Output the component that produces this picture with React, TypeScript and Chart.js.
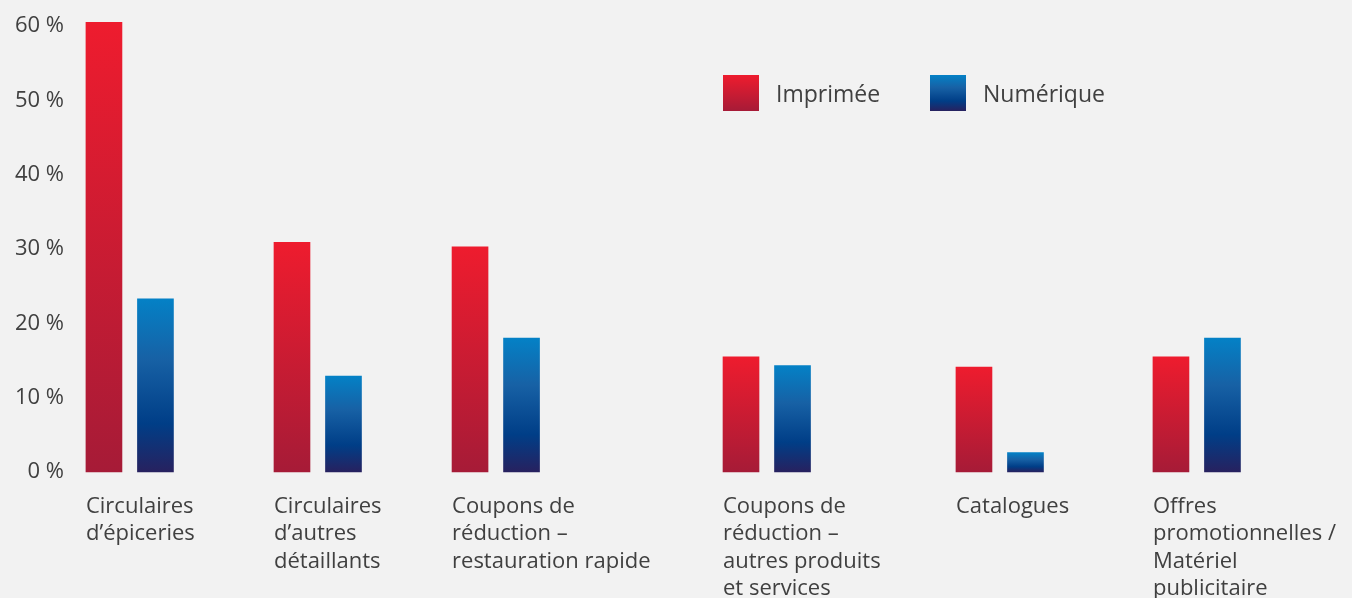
import { useEffect, useRef } from "react";
import { Chart, registerables } from "chart.js";

Chart.register(...registerables);

// ---- data ----
const categories: string[][] = [
  ["Circulaires", "d’épiceries"],
  ["Circulaires", "d’autres", "détaillants"],
  ["Coupons de", "réduction –", "restauration rapide"],
  ["Coupons de", "réduction –", "autres produits", "et services"],
  ["Catalogues"],
  ["Offres", "promotionnelles /", "Matériel", "publicitaire"],
];
const seriesNames = ["Imprimée", "Numérique"];
const printValues = [60.5, 30.9, 30.3, 15.5, 14.1, 15.5];
const digitalValues = [23.3, 12.9, 18.0, 14.3, 2.6, 18.0];
const yTickValues = [0, 10, 20, 30, 40, 50, 60];
// uneven category slots along the x axis (0–100 scale), as in the source layout
const categorySlots = [1.09, 15.78, 29.69, 50.86, 69.06, 84.45];

// ---- styling ----
const BG = "#f2f2f2";
const TEXT = "#404040";
const FONT = "'Open Sans', 'Noto Sans', sans-serif";
const redStops: [number, string][] = [
  [0, "#ee1c2e"],
  [1, "#a61b37"],
];
const blueStops: [number, string][] = [
  [0, "#0481c6"],
  [0.35, "#1761a5"],
  [0.72, "#003e87"],
  [1, "#27215f"],
];
const BAR_PX = 36;
const X_UNITS_PER_PX = 100 / 1280;
const redOffset = (BAR_PX / 2) * X_UNITS_PER_PX;
const blueOffset = redOffset + 51.5 * X_UNITS_PER_PX;

function grad(ctx: CanvasRenderingContext2D, top: number, bottom: number, stops: [number, string][]) {
  const g = ctx.createLinearGradient(0, top, 0, bottom);
  stops.forEach(([o, c]) => g.addColorStop(o, c));
  return g;
}

function barFill(stops: [number, string][]) {
  return (c: any) => {
    const chart = c.chart;
    const y = chart.scales?.y;
    if (!y || c.type !== "data" || !c.parsed) return stops[0][1];
    const top = y.getPixelForValue(c.parsed.y);
    const base = y.getPixelForValue(0);
    if (!Number.isFinite(top) || !Number.isFinite(base) || top === base) return stops[0][1];
    return grad(chart.ctx, top, base, stops);
  };
}

const legendPlugin = {
  id: "customLegend",
  afterDraw(chart: any) {
    const { ctx, chartArea } = chart;
    const items = [
      { name: seriesNames[0], stops: redStops, x: chartArea.left + 651 },
      { name: seriesNames[1], stops: blueStops, x: chartArea.left + 858 },
    ];
    const top = 75;
    const size = 36;
    ctx.save();
    ctx.font = `23px ${FONT}`;
    ctx.textBaseline = "alphabetic";
    ctx.textAlign = "left";
    items.forEach((it) => {
      ctx.fillStyle = grad(ctx, top, top + size, it.stops);
      ctx.fillRect(it.x, top, size, size);
      ctx.fillStyle = TEXT;
      ctx.fillText(it.name, it.x + size + 17, top + 27);
    });
    ctx.restore();
  },
};

const categoryLabelPlugin = {
  id: "categoryLabels",
  afterDraw(chart: any) {
    const { ctx, chartArea } = chart;
    const xs = chart.scales.x;
    ctx.save();
    ctx.font = `22px ${FONT}`;
    ctx.fillStyle = TEXT;
    ctx.textAlign = "left";
    ctx.textBaseline = "alphabetic";
    categories.forEach((lines, i) => {
      const x = xs.getPixelForValue(categorySlots[i]);
      lines.forEach((line, k) => {
        ctx.fillText(line, x, chartArea.bottom + 41 + k * 27.3);
      });
    });
    ctx.restore();
  },
};

export default function App() {
  const ref = useRef<HTMLCanvasElement | null>(null);

  useEffect(() => {
    if (!ref.current) return;
    const chart = new Chart(ref.current, {
      type: "bar",
      data: {
        datasets: [
          {
            label: seriesNames[0],
            data: printValues.map((v, i) => ({ x: categorySlots[i] + redOffset, y: v })),
            backgroundColor: barFill(redStops),
            barThickness: BAR_PX,
            grouped: false,
            clip: false as any,
          },
          {
            label: seriesNames[1],
            data: digitalValues.map((v, i) => ({ x: categorySlots[i] + blueOffset, y: v })),
            backgroundColor: barFill(blueStops),
            barThickness: BAR_PX,
            grouped: false,
            clip: false as any,
          },
        ],
      },
      options: {
        animation: false,
        responsive: true,
        maintainAspectRatio: false,
        events: [],
        layout: { padding: { top: 26, left: 0, right: 0, bottom: 0 } },
        plugins: {
          legend: { display: false },
          tooltip: { enabled: false },
        },
        scales: {
          x: {
            type: "linear",
            offset: false,
            min: 0,
            max: 100,
            grid: { display: false, drawTicks: false },
            border: { display: false },
            afterBuildTicks: (scale: any) => {
              scale.ticks = categorySlots.map((v) => ({ value: v }));
            },
            afterFit: (scale: any) => {
              scale.height = 126;
            },
            ticks: { display: false },
          },
          y: {
            min: 0,
            max: 60,
            grid: { display: false, drawTicks: false },
            border: { display: false },
            afterBuildTicks: (scale: any) => {
              scale.ticks = yTickValues.map((v) => ({ value: v }));
            },
            afterFit: (scale: any) => {
              scale.width = 72;
            },
            ticks: {
              padding: 8,
              color: TEXT,
              font: { family: FONT, size: 22 },
              callback: (v: any) => `${v} %`,
            },
          },
        },
      },
      plugins: [
        {
          id: "bg",
          beforeDraw(c: any) {
            const { ctx, width, height } = c;
            ctx.save();
            ctx.fillStyle = BG;
            ctx.fillRect(0, 0, width, height);
            ctx.restore();
          },
        },
        legendPlugin,
        categoryLabelPlugin,
      ],
    } as any);
    return () => chart.destroy();
  }, []);

  return (
    <div style={{ position: "fixed", left: 0, top: 0, width: 1352, height: 598, background: BG }}>
      <canvas ref={ref} />
    </div>
  );
}
